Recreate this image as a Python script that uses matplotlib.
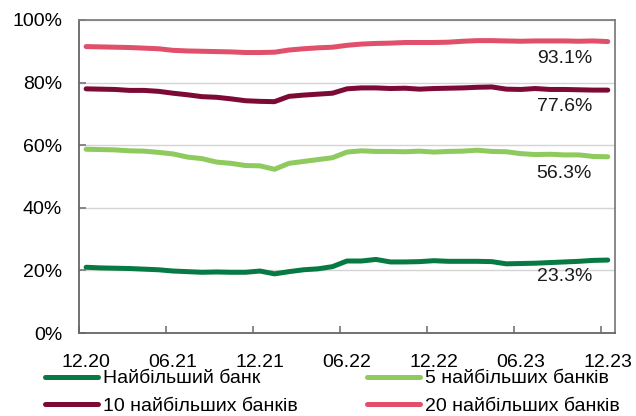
import matplotlib
matplotlib.use("Agg")
import matplotlib.pyplot as plt
from matplotlib.ticker import FixedLocator

plt.rcParams['font.family'] = ['Liberation Sans', 'DejaVu Sans']

# місяці 12.20 ... 12.23 (37 точок)
tick_labels = ['12.20', '06.21', '12.21', '06.22', '12.22', '06.23', '12.23']

largest = [21.0, 20.8, 20.7, 20.6, 20.4, 20.2, 19.8, 19.6, 19.4, 19.5, 19.4, 19.4,
           19.8, 18.9, 19.6, 20.2, 20.5, 21.2, 23.0, 23.0, 23.5, 22.7, 22.7, 22.8,
           23.1, 22.9, 22.9, 22.9, 22.8, 22.1, 22.2, 22.3, 22.5, 22.7, 22.9, 23.2, 23.3]
top5 = [58.7, 58.6, 58.5, 58.2, 58.1, 57.7, 57.2, 56.2, 55.7, 54.6, 54.2, 53.5,
        53.4, 52.3, 54.2, 54.8, 55.4, 56.0, 57.8, 58.2, 58.0, 58.0, 57.9, 58.1,
        57.8, 58.0, 58.1, 58.4, 58.0, 57.9, 57.3, 57.0, 57.1, 56.9, 56.9, 56.4, 56.3]
top10 = [78.0, 77.9, 77.8, 77.5, 77.5, 77.2, 76.6, 76.1, 75.5, 75.3, 74.8, 74.2,
         74.0, 73.9, 75.6, 76.0, 76.3, 76.6, 78.0, 78.3, 78.3, 78.1, 78.2, 77.9,
         78.1, 78.2, 78.3, 78.5, 78.6, 77.9, 77.8, 78.1, 77.8, 77.8, 77.7, 77.6, 77.6]
top20 = [91.5, 91.4, 91.3, 91.2, 91.0, 90.8, 90.3, 90.1, 90.0, 89.9, 89.8, 89.6,
         89.6, 89.7, 90.4, 90.8, 91.1, 91.3, 91.9, 92.3, 92.5, 92.6, 92.8, 92.8,
         92.8, 92.9, 93.2, 93.4, 93.4, 93.3, 93.2, 93.3, 93.3, 93.3, 93.2, 93.3, 93.1]

names = ['Найбільший банк', '5 найбільших банків', '10 найбільших банків', '20 найбільших банків']
colors = ['#067a42', '#8fca5f', '#7d0a35', '#e0506a']

fig = plt.figure(figsize=(6.36, 4.16), dpi=100)
ax = fig.add_axes([0.124, 0.1995, 0.843, 0.7525])

x = list(range(len(largest)))
series = [largest, top5, top10, top20]
lines = []
for s, c, n in zip(series, colors, names):
    ln, = ax.plot(x, s, color=c, lw=3.6, label=n, solid_capstyle='round')
    lines.append(ln)

# підписи останніх значень
for s in series:
    ax.text(33.0, s[-1] - 5.4, f'{s[-1]:.1f}%', fontsize=14, ha='center', va='center',
            color='#1a1a1a')

ax.set_xlim(-0.5, 36.5)
ax.set_ylim(0, 100)
ax.set_yticks([0, 20, 40, 60, 80, 100])
ax.set_yticklabels([f'{v}%' for v in range(0, 101, 20)])
ax.set_xticks(range(0, 37, 6))
ax.set_xticklabels(tick_labels)
ax.xaxis.set_minor_locator(FixedLocator([i - 0.5 for i in range(0, 37, 6)]))
ax.tick_params(axis='x', which='major', length=0, pad=15, labelsize=14)
ax.tick_params(axis='x', which='minor', length=5, direction='in', width=1.3, color='#7f7f7f')
ax.tick_params(axis='y', length=5, direction='in', width=1.3, color='#7f7f7f', pad=12, labelsize=14)

ax.grid(axis='y', color='#d4d4d4', lw=1)
ax.set_axisbelow(True)
for sp in ax.spines.values():
    sp.set_color('#7f7f7f')
    sp.set_linewidth(1.3)
ax.spines['left'].set_color('#666666')
ax.spines['bottom'].set_color('#666666')

order = [0, 2, 1, 3]
fig.legend([lines[i] for i in order], [names[i] for i in order], ncol=2,
           loc='upper left', bbox_to_anchor=(0.0708, 0.111), frameon=False,
           fontsize=14, borderpad=0, borderaxespad=0, handlelength=2.73,
           handletextpad=0.26, columnspacing=3.55, labelspacing=0.52)

fig.savefig('out.png', dpi=100)
